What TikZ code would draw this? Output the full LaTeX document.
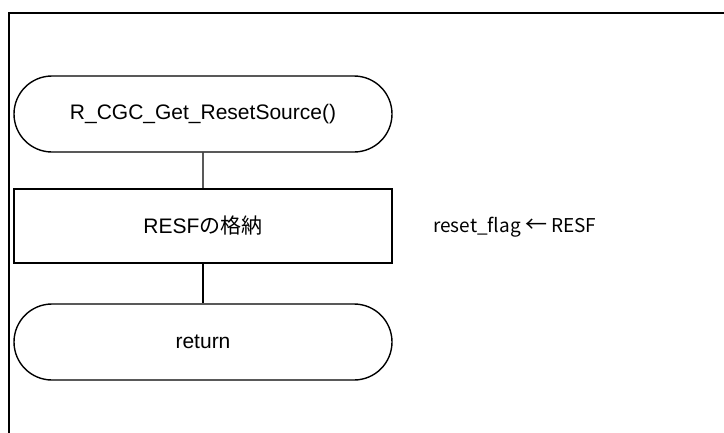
\documentclass[tikz,border=0pt]{standalone}
\usepackage{fontspec}
\setmainfont{Liberation Sans}
\newfontfamily\jp{Noto Sans CJK JP}
\usetikzlibrary{shapes.misc}
\begin{document}
\begin{tikzpicture}[x=1pt,y=-1pt,
  term/.style={draw,line width=1.4pt,rounded rectangle,minimum width=378pt,minimum height=76pt,inner sep=0pt,font=\fontsize{21}{24}\selectfont},
  proc/.style={draw,line width=1.4pt,rectangle,minimum width=378pt,minimum height=74pt,inner sep=0pt,font=\fontsize{21}{24}\selectfont},
  conn/.style={line width=1.4pt},
  frameline/.style={line width=2pt}]
\useasboundingbox (0,0) rectangle (724,432);
\coordinate (fb) at (8.5,433);
\coordinate (fc) at (8.5,12.5);
\coordinate (fr) at (725,12.5);
\draw[frameline] (fb) -- (fc) -- (fr);
\node[term] (start) at (203,114) {R\_CGC\_Get\_ResetSource()};
\node[proc] (store) at (203,226) {RESF{\jp の格納}};
\node[term] (ret) at (203,342) {return};
\node[anchor=west,inner sep=0pt,font=\jp\fontsize{19}{22}\selectfont] (note) at (433,227) {reset\_flag {\fontsize{22}{22}\selectfont ←} RESF};
\draw[conn] (start) -- (store);
\draw[conn] (store) -- (ret);
\end{tikzpicture}
\end{document}
